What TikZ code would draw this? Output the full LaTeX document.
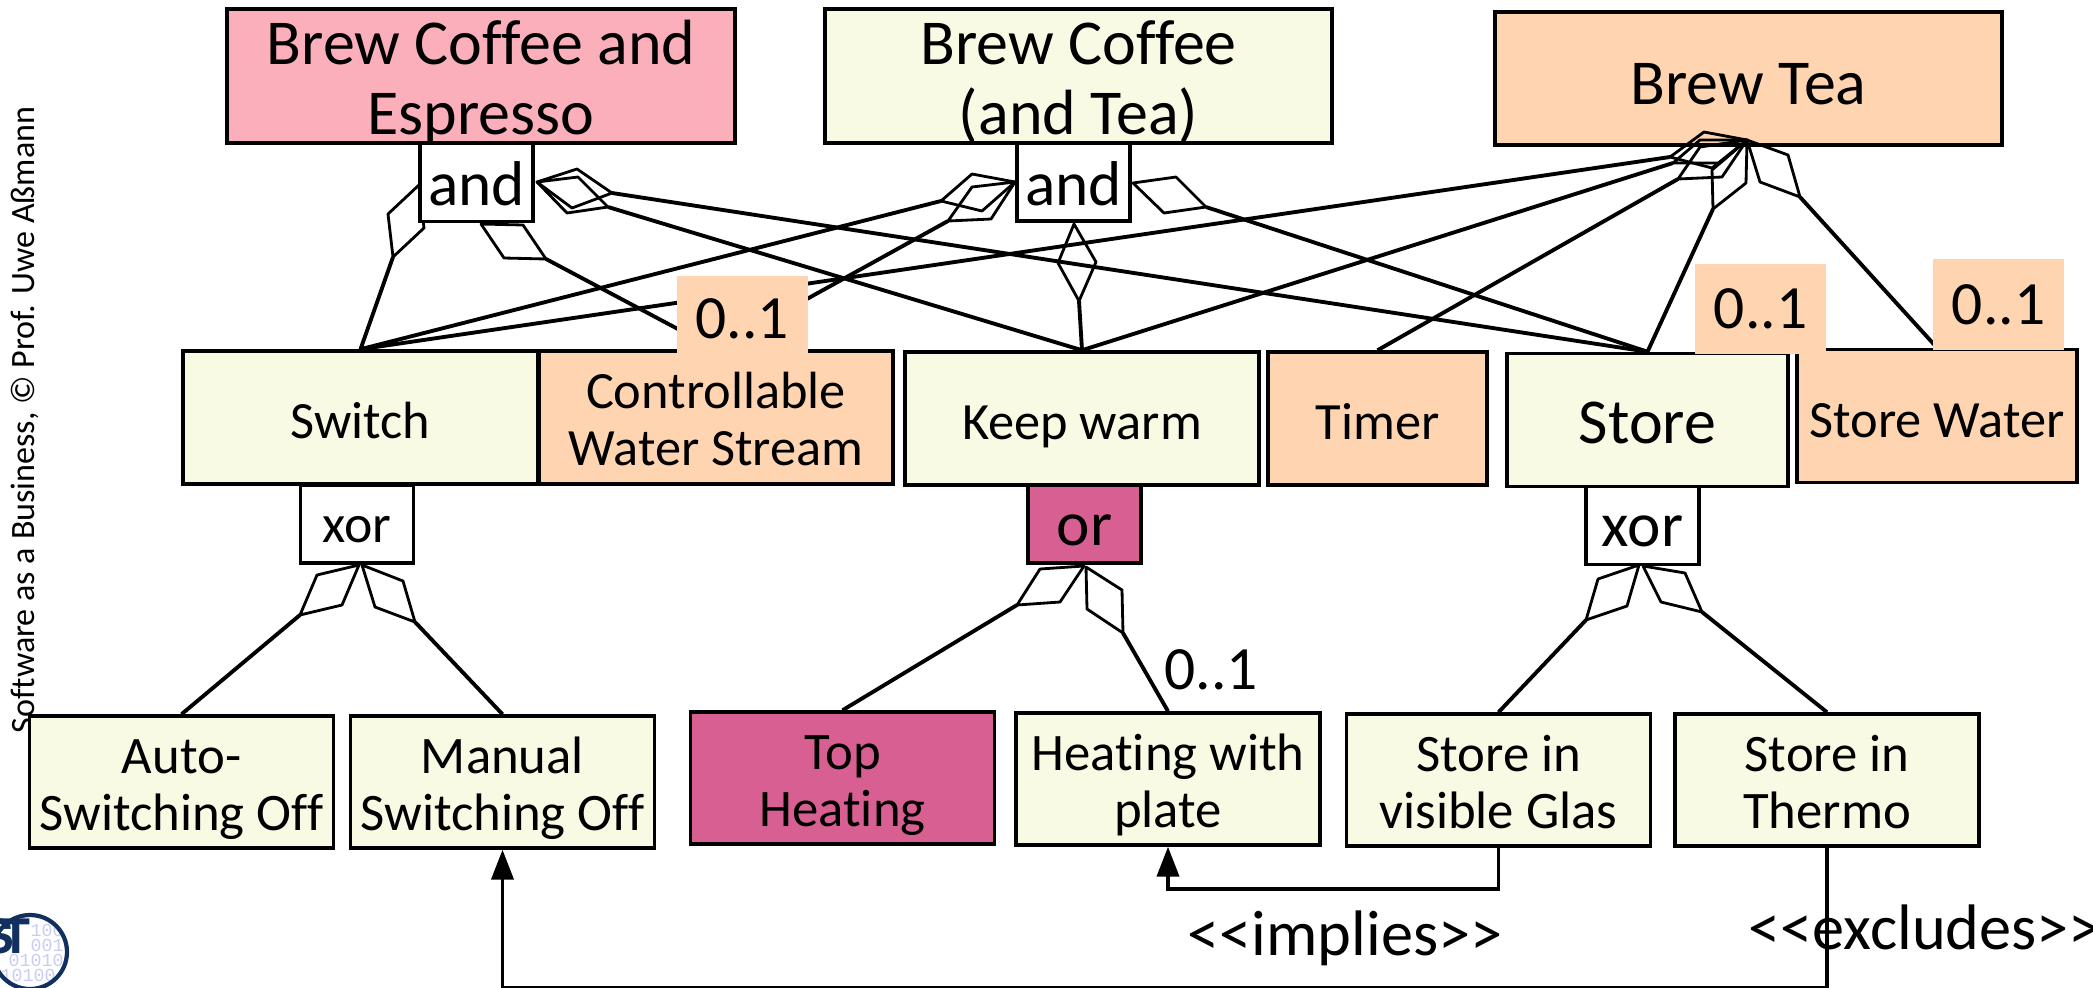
\documentclass[tikz,border=0pt]{standalone}
\usepackage{fontspec}
\setmainfont[Ligatures=NoCommon]{Carlito}
\newfontfamily\logobold{TeX Gyre Heros}
\newfontfamily\logomono{Liberation Mono}
\usepackage{xcolor}
\usepackage{tikz}
\usetikzlibrary{arrows.meta}
\definecolor{featyellow}{HTML}{F8FAE3}
\definecolor{featorange}{HTML}{FFD4B1}
\definecolor{featpink}{HTML}{FAAFBA}
\definecolor{featmagenta}{HTML}{D85F92}
\definecolor{logoblue}{HTML}{12305F}
\definecolor{logodigit}{HTML}{C9CDF3}
\tikzset{>={Triangle[length=8.5pt,width=6.3pt]}}
% one feature edge: name, tip, two sides, far corner, target node
\newcommand{\featlink}[6]{
  \coordinate (tip#1) at #2;
  \coordinate (far#1) at #4;
  \draw[diam] (tip#1) -- #3 -- (far#1) -- #5 -- cycle;
  \draw[link] (far#1) -- (#6.north);
}

\begin{document}
\begin{tikzpicture}[x=1cm,y=-1cm,
              box/.style={draw, line width=1pt, align=center, inner sep=0pt, text depth=0pt},
              top/.style={box, text height=33.1pt, minimum width=5.07cm, minimum height=1.33cm, font=\fontsize{18.2}{19.8}\selectfont},
              mid/.style={box, text height=12pt, minimum height=1.33cm, font=\fontsize{14.9}{16.2}\selectfont},
              leaf/.style={box, text height=27.7pt, fill=featyellow, minimum width=3.04cm, minimum height=1.32cm, font=\fontsize{15}{16.3}\selectfont},
              group/.style={box, text height=13.3pt, fill=white, minimum width=1.13cm, minimum height=.78cm, font=\fontsize{18}{20}\selectfont},
              card/.style={fill=featorange, inner sep=0pt, font=\fontsize{17.5}{20}\selectfont},
              diam/.style={line width=.8pt, line join=round},
              link/.style={line width=1.1pt},
              rel/.style={line width=1pt, ->},
             ]
\useasboundingbox (0,0) rectangle (20.93,9.87);

% side text and logo
\node[rotate=90, font=\fontsize{9.7}{11}\selectfont] (credit) at (.25,4.2) {Software as a Business, © Prof. Uwe Aßmann};
\begin{scope}
\clip (.30,9.52) circle (.37);
\node[anchor=west, inner sep=0pt, text=logodigit, font=\logomono\fontsize{5.2}{6}\selectfont] (digitA) at (.30,9.30) {100};
\node[anchor=west, inner sep=0pt, text=logodigit, font=\logomono\fontsize{5.2}{6}\selectfont] (digitB) at (.30,9.45) {001};
\node[anchor=west, inner sep=0pt, text=logodigit, font=\logomono\fontsize{5.2}{6}\selectfont] (digitC) at (.08,9.60) {01010};
\node[anchor=west, inner sep=0pt, text=logodigit, font=\logomono\fontsize{5.2}{6}\selectfont] (digitD) at (0,9.75) {10100};
\end{scope}
\draw[logoblue, line width=1.2pt] (.30,9.52) circle (.37);
\node[anchor=east, inner sep=0pt, text=logoblue, font=\logobold\bfseries\fontsize{13.5}{14}\selectfont] (logost) at (.31,9.36) {S\kern-.28em T};

% features
\node[top, fill=featpink, minimum width=5.08cm, minimum height=1.34cm] (coffeeEsp) at (4.81,.76) {Brew Coffee and\\Espresso};
\node[top, fill=featyellow, minimum height=1.34cm] (coffeeTea) at (10.785,.76) {Brew Coffee\\(and Tea)};
\node[top, text height=14.8pt, fill=featorange] (brewTea) at (17.485,.785) {Brew Tea};
\node[mid, fill=featyellow, minimum width=3.55cm] (switch) at (3.605,4.175) {Switch};
\node[mid, text height=27.4pt, fill=featorange, minimum width=3.54cm] (waterStream) at (7.16,4.175) {Controllable\\Water Stream};
\node[mid, fill=featyellow, minimum width=3.54cm] (keepWarm) at (10.82,4.185) {Keep warm};
\node[mid, fill=featorange, minimum width=2.19cm] (timer) at (13.775,4.185) {Timer};
\node[mid, text height=13.5pt, fill=featyellow, minimum width=2.81cm, font=\fontsize{18.2}{20}\selectfont] (store) at (16.475,4.2) {Store};
\node[mid, fill=featorange, minimum width=2.80cm] (storeWater) at (19.37,4.16) {Store Water};
\node[leaf] (autoOff) at (1.815,7.82) {Auto-\\Switching Off};
\node[leaf] (manualOff) at (5.025,7.82) {Manual\\Switching Off};
\node[leaf, fill=featmagenta] (topHeat) at (8.425,7.78) {Top\\Heating};
\node[leaf] (plateHeat) at (11.68,7.79) {Heating with\\plate};
\node[leaf] (visGlas) at (14.985,7.80) {Store in\\visible Glas};
\node[leaf] (thermo) at (18.27,7.80) {Store in\\Thermo};

% diamonds and their lines
\featlink{AS}{(4.19,1.85)}{(3.88,2.14)}{(3.93,2.57)}{(4.24,2.28)}{switch}
\featlink{AW}{(4.81,2.24)}{(5.04,2.58)}{(5.46,2.59)}{(5.23,2.25)}{waterStream}
\featlink{AK}{(5.37,1.82)}{(5.78,1.77)}{(6.08,2.07)}{(5.67,2.13)}{keepWarm}
\featlink{AT}{(5.37,1.82)}{(5.77,1.69)}{(6.12,1.93)}{(5.72,2.08)}{store}
\featlink{BS}{(10.15,1.82)}{(9.72,1.74)}{(9.41,2.01)}{(9.82,2.11)}{switch}
\featlink{BW}{(10.15,1.82)}{(9.72,1.87)}{(9.48,2.21)}{(9.91,2.19)}{waterStream}
\featlink{BK}{(10.74,2.24)}{(10.96,2.62)}{(10.79,3.01)}{(10.58,2.63)}{keepWarm}
\featlink{BT}{(11.33,1.83)}{(11.76,1.77)}{(12.06,2.07)}{(11.64,2.13)}{store}
\featlink{TS}{(17.47,1.40)}{(17.04,1.32)}{(16.70,1.57)}{(17.12,1.68)}{switch}
\featlink{TK}{(17.47,1.40)}{(17.00,1.40)}{(16.73,1.63)}{(17.20,1.63)}{keepWarm}
\featlink{TM}{(17.47,1.40)}{(17.00,1.47)}{(16.78,1.79)}{(17.22,1.77)}{timer}
\featlink{TT}{(17.47,1.40)}{(17.12,1.70)}{(17.13,2.09)}{(17.46,1.83)}{store}
\featlink{TW}{(17.47,1.40)}{(17.88,1.55)}{(18.00,1.97)}{(17.60,1.82)}{storeWater}
\featlink{XA}{(3.59,5.65)}{(3.17,5.75)}{(3.00,6.15)}{(3.42,6.05)}{autoOff}
\featlink{XM}{(3.62,5.65)}{(4.03,5.81)}{(4.15,6.22)}{(3.75,6.07)}{manualOff}
\featlink{OT}{(10.84,5.66)}{(10.40,5.69)}{(10.17,6.05)}{(10.60,6.02)}{topHeat}
\featlink{OP}{(10.86,5.67)}{(11.22,5.90)}{(11.23,6.33)}{(10.87,6.09)}{plateHeat}
\featlink{CV}{(16.39,5.65)}{(15.98,5.79)}{(15.86,6.20)}{(16.27,6.06)}{visGlas}
\featlink{CT}{(16.43,5.66)}{(16.85,5.73)}{(17.02,6.12)}{(16.61,6.02)}{thermo}

% groups
\node[group] (andA) at (4.765,1.825) {and};
\node[group] (andB) at (10.735,1.82) {and};
\node[group, text height=10.8pt, font=\fontsize{15.3}{18}\selectfont] (xorA) at (3.57,5.24) {xor};
\node[group, text height=12pt, fill=featmagenta] (orB) at (10.845,5.24) {or};
\node[group, text height=12pt] (xorC) at (16.425,5.255) {xor};

% cardinalities
\node[card, text height=13.9pt, text depth=0pt, minimum width=1.31cm, minimum height=.77cm] (cardWater) at (7.425,3.145) {0..1};
\node[card, minimum width=1.31cm, minimum height=.90cm] (cardStore) at (17.605,3.09) {0..1};
\node[card, minimum width=1.31cm, minimum height=.91cm] (cardTank) at (19.985,3.045) {0..1};
\node[font=\fontsize{17.5}{20}\selectfont, inner sep=0pt] (cardPlate) at (12.11,6.70) {0..1};

% constraints
\draw[rel] (visGlas.south) -- ++(0,.41) -| (plateHeat.south);
\draw[rel] (thermo.south) -- ++(0,1.40) -| (manualOff.south);
\node[anchor=west, inner sep=0pt, font=\fontsize{18.3}{20}\selectfont] (implies) at (11.87,9.38) {<{}<implies>{}>};
\node[anchor=west, inner sep=0pt, font=\fontsize{18.3}{20}\selectfont] (excludes) at (17.48,9.27) {<{}<excludes>{}>};
\end{tikzpicture}
\end{document}
